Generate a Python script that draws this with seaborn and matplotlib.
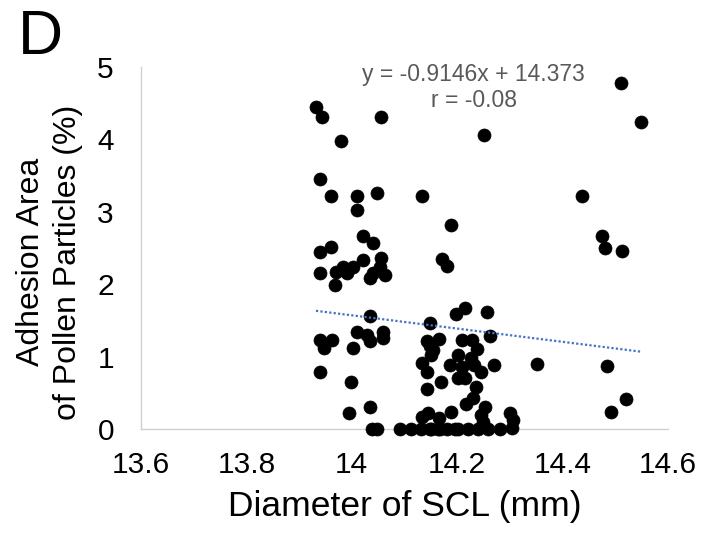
import numpy as np
import pandas as pd
import matplotlib
matplotlib.use("Agg")
import matplotlib.pyplot as plt
import seaborn as sns

# ---- data ----
diameter_left = [13.932, 13.943, 13.979, 14.055, 13.939, 13.960, 14.009, 14.047, 14.009, 14.021,
                 14.040, 13.960, 13.939, 14.021, 14.055, 13.939, 13.970, 13.983, 14.002, 13.991,
                 14.040, 14.034, 14.063, 14.053, 13.968, 14.034, 14.009, 14.028, 14.034, 14.059,
                 14.059, 13.939, 13.962, 13.947, 14.002, 13.939, 13.998, 14.034, 13.994, 14.038,
                 14.047]
adhesion_left = [4.45, 4.31, 3.98, 4.31, 3.45, 3.22, 3.22, 3.25, 3.02, 2.67,
                 2.56, 2.51, 2.44, 2.33, 2.36, 2.15, 2.16, 2.24, 2.24, 2.15,
                 2.15, 2.09, 2.13, 2.24, 1.99, 1.56, 1.34, 1.30, 1.21, 1.34,
                 1.25, 1.23, 1.23, 1.12, 1.12, 0.79, 0.65, 0.31, 0.22, 0.0,
                 0.0]

diameter_mid = [14.250, 14.134, 14.189, 14.171, 14.180, 14.214, 14.197, 14.256, 14.148, 14.262,
                14.142, 14.166, 14.209, 14.228, 14.237, 14.148, 14.154, 14.151, 14.201, 14.227,
                14.134, 14.186, 14.209, 14.231, 14.269, 14.246, 14.142, 14.201, 14.214, 14.169,
                14.235, 14.142, 14.229, 14.216, 14.252, 14.189, 14.144, 14.133, 14.165, 14.246,
                14.248, 14.301, 14.305, 14.304, 14.091, 14.113, 14.132, 14.151, 14.167, 14.180,
                14.195, 14.201, 14.220, 14.239, 14.258, 14.281, 14.163, 14.148]
adhesion_mid = [4.06, 3.22, 2.82, 2.34, 2.25, 1.67, 1.58, 1.62, 1.46, 1.29,
                1.22, 1.24, 1.23, 1.23, 1.11, 1.14, 1.09, 1.02, 1.02, 0.98,
                0.91, 0.88, 0.86, 0.88, 0.88, 0.79, 0.78, 0.70, 0.70, 0.65,
                0.58, 0.55, 0.43, 0.35, 0.30, 0.24, 0.22, 0.16, 0.15, 0.19,
                0.10, 0.22, 0.12, 0.02, 0.0, 0.0, 0.0, 0.0, 0.0, 0.0,
                0.0, 0.0, 0.0, 0.0, 0.0, 0.0, 0.0, 0.0]

diameter_right = [14.351, 14.510, 14.549, 14.436, 14.474, 14.481, 14.512, 14.484, 14.521, 14.491]
adhesion_right = [0.89, 4.78, 4.23, 3.22, 2.67, 2.50, 2.45, 0.875, 0.42, 0.23]

slope = -0.9146
intercept = 14.373
r_value = -0.08

x_ticks = [13.6, 13.8, 14.0, 14.2, 14.4, 14.6]
x_tick_labels = ["13.6", "13.8", "14", "14.2", "14.4", "14.6"]
y_ticks = [0, 1, 2, 3, 4, 5]

df = pd.DataFrame({
    "diameter": diameter_left + diameter_mid + diameter_right,
    "adhesion": adhesion_left + adhesion_mid + adhesion_right,
})

# trend line from the reported equation, over the data range
x_line = np.array([df["diameter"].min(), df["diameter"].max()])
trend = pd.DataFrame({"diameter": x_line, "adhesion": slope * x_line + intercept})

# ---- plotting ----
sns.set_style("white")
plt.rcParams["font.family"] = ["Liberation Sans", "DejaVu Sans"]
plt.rcParams["text.color"] = "black"
plt.rcParams["axes.labelcolor"] = "black"

fig = plt.figure(figsize=(7.01, 5.40), dpi=100)
ax = fig.add_axes([0.2011, 0.2056, 0.7519, 0.6709])

sns.scatterplot(data=df, x="diameter", y="adhesion", ax=ax, color="black",
                edgecolor="black", linewidth=0.5, s=88, clip_on=False, zorder=3)
sns.lineplot(data=trend, x="diameter", y="adhesion", ax=ax, color="#4472C4",
             linewidth=1.6, linestyle=(0, (1, 1)), zorder=4)

ax.set_xlim(13.6, 14.6)
ax.set_ylim(0, 5)
ax.set_xticks(x_ticks)
ax.set_xticklabels(x_tick_labels)
ax.set_yticks(y_ticks)

for side in ["top", "right"]:
    ax.spines[side].set_visible(False)
for side in ["left", "bottom"]:
    ax.spines[side].set_color("#d0d0d0")
    ax.spines[side].set_linewidth(1.0)

ax.tick_params(axis="both", direction="out", length=6.5, width=1.0, color="#d0d0d0",
               labelsize=21.5, labelcolor="black")
ax.tick_params(axis="x", pad=9)
ax.tick_params(axis="y", pad=13)

ax.set_xlabel("Diameter of SCL (mm)", fontsize=25.5, labelpad=8, color="black")
ax.set_ylabel("Adhesion Area\nof Pollen Particles (%)", fontsize=23, labelpad=10,
              multialignment="center", linespacing=1.3, color="black")
ax.yaxis.label.set_y(0.46)

ax.text(14.231, 4.89, f"y = {slope}x + {intercept}", fontsize=16.5, color="#595959",
        ha="center", va="center")
ax.text(14.231, 4.53, f"r = {r_value:.2f}", fontsize=16.5, color="#595959",
        ha="center", va="center")

fig.text(40 / 701, 1 - 37 / 540, "D", fontsize=45, ha="center", va="center", color="black")

fig.savefig("out.png", dpi=100)
